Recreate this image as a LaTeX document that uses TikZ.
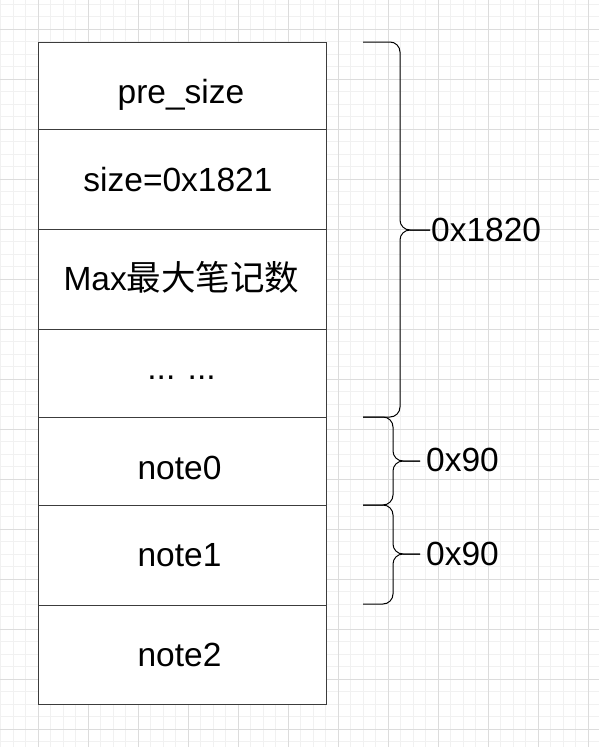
\documentclass[tikz,border=0pt]{standalone}
\usepackage{fontspec}
\setmainfont{Liberation Sans}
\newfontfamily\cjk[Scale=1.03]{Noto Sans CJK SC}
\definecolor{gridminor}{HTML}{F1F1F1}
\definecolor{gridmajor}{HTML}{DCDCDC}
\definecolor{boxline}{HTML}{3C3C3C}
\begin{document}
\begin{tikzpicture}[x=1pt,y=-1pt,
  cell/.style={draw=boxline,line width=1.3pt,fill=white,rectangle,inner sep=0pt,minimum width=288pt,anchor=north west},
  celltext/.style={anchor=base,inner sep=0pt,font=\fontsize{33.5}{40}\selectfont},
  bracetext/.style={anchor=base west,inner sep=0pt,font=\fontsize{33.5}{40}\selectfont},
  brace/.style={draw=black,line width=1pt,rounded corners=10pt}]
\useasboundingbox (0,0) rectangle (599,747);
\fill[white] (0,0) rectangle (599,747);
% grid
\foreach \i in {0,...,48} {
  \draw[gridminor,line width=0.8pt] ({-12+12.5*\i},0) -- ({-12+12.5*\i},747);
}
\foreach \i in {0,...,60} {
  \draw[gridminor,line width=0.8pt] (0,{4+12.5*\i}) -- (599,{4+12.5*\i});
}
\foreach \i in {0,...,12} {
  \draw[gridmajor,line width=0.8pt] ({-12+50*\i},0) -- ({-12+50*\i},747);
}
\foreach \i in {0,...,15} {
  \draw[gridmajor,line width=0.8pt] (0,{29+50*\i}) -- (599,{29+50*\i});
}
% cells
\node[cell,minimum height=87pt] (c0) at (38,42) {};
\node[cell,minimum height=100pt] (c1) at (38,129) {};
\node[cell,minimum height=100pt] (c2) at (38,229) {};
\node[cell,minimum height=88pt] (c3) at (38,329) {};
\node[cell,minimum height=88pt] (c4) at (38,417) {};
\node[cell,minimum height=100pt] (c5) at (38,505) {};
\node[cell,minimum height=99pt] (c6) at (38,605) {};
% texts
\node[celltext] (t0) at (181,103) {pre\_size};
\node[celltext] (t1) at (178,191.7) {size=0x1821};
\node[celltext] (t2) at (181.5,290) {Max{\cjk 最大笔记数}};
\node[celltext] (t3) at (181.5,379) {... ...};
\node[celltext] (t4) at (179.5,479) {note0};
\node[celltext] (t5) at (179.5,566.7) {note1};
\node[celltext] (t6) at (179.5,666) {note2};
% braces
\coordinate (b0top) at (363,42);
\coordinate (b0bot) at (363,417);
\coordinate (b0tip) at (430,230);
\draw[brace] (b0top) -- (400,42) -- (400,230) -- (b0tip);
\draw[brace] (b0tip) -- (400,230) -- (400,417) -- (b0bot);
\node[bracetext] (l0) at (431,241.7) {0x1820};

\coordinate (b1top) at (363,417);
\coordinate (b1bot) at (363,505);
\coordinate (b1tip) at (420,461);
\draw[brace] (b1top) -- (393,417) -- (393,461) -- (b1tip);
\draw[brace] (b1tip) -- (393,461) -- (393,505) -- (b1bot);
\node[bracetext] (l1) at (426,471.7) {0x90};

\coordinate (b2top) at (363,505);
\coordinate (b2bot) at (363,604);
\coordinate (b2tip) at (420,554);
\draw[brace] (b2top) -- (393,505) -- (393,554) -- (b2tip);
\draw[brace] (b2tip) -- (393,554) -- (393,604) -- (b2bot);
\node[bracetext] (l2) at (426,565.7) {0x90};
\end{tikzpicture}
\end{document}
